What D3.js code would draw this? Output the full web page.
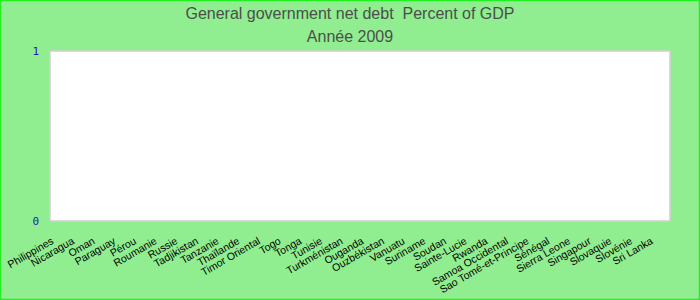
<!DOCTYPE html>
<html><head><meta charset="utf-8">
<script src="https://cdn.jsdelivr.net/npm/d3@7"></script>
<style>body{margin:0;padding:0;background:#fff}svg{display:block}</style>
</head><body>
<script>
const categories = ["Philippines","Nicaragua","Oman","Paraguay","Pérou","Roumanie","Russie","Tadjikistan","Tanzanie","Thaïlande","Timor Oriental","Togo","Tonga","Tunisie","Turkménistan","Ouganda","Ouzbékistan","Vanuatu","Suriname","Soudan","Sainte-Lucie","Rwanda","Samoa Occidental","Sao Tomé-et-Principe","Sénégal","Sierra Leone","Singapour","Slovaquie","Slovénie","Sri Lanka"];
const values = categories.map(() => null); // no data reported for 2009
const yTicks = [0, 1];
const title1 = "General government net debt  Percent of GDP";
const title2 = "Année 2009";

const W = 700, H = 300;
const m = {l:50, r:30, t:51, b:79};
const svg = d3.select("body").append("svg").attr("width", W).attr("height", H);
svg.append("rect").attr("x",0.5).attr("y",0.5).attr("width",W-1).attr("height",H-1)
  .attr("fill","#90ee90").attr("stroke","#22ee22").attr("stroke-width",1.5);

const x = d3.scaleBand().domain(categories).range([m.l, W-m.r]);
const y = d3.scaleLinear().domain([0,1]).range([H-m.b, m.t]);

svg.append("rect").attr("x",m.l).attr("y",m.t).attr("width",W-m.l-m.r).attr("height",H-m.t-m.b)
  .attr("fill","#fff").attr("stroke","#d0d0d0").attr("stroke-width",1.5);

svg.append("g").selectAll("rect").data(categories.map((c,i)=>({c,v:values[i]})).filter(d=>d.v!=null))
  .join("rect").attr("x",d=>x(d.c)+x.bandwidth()*0.1).attr("width",x.bandwidth()*0.8)
  .attr("y",d=>y(d.v)).attr("height",d=>y(0)-y(d.v)).attr("fill","#4472c4");

const ya = svg.append("g").attr("transform",`translate(${m.l},0)`)
  .call(d3.axisLeft(y).tickValues(yTicks).tickFormat(d3.format("d")).tickSize(0).tickPadding(11));
ya.select(".domain").remove();
ya.selectAll("text").attr("fill","#1a1ab0").style("font-family","'DejaVu Sans Mono', monospace").style("font-size","11px");

const xa = svg.append("g").attr("transform",`translate(0,${H-m.b})`)
  .call(d3.axisBottom(x).tickSize(0));
xa.select(".domain").remove();
xa.selectAll("text").attr("text-anchor","end").attr("dy",null).attr("y",null)
  .attr("transform","translate(-6,22) rotate(-30)")
  .attr("fill","#000").style("font-family","'Liberation Sans', Arial, sans-serif").style("font-size","10.5px");

svg.append("text").attr("x",W/2).attr("y",19).attr("text-anchor","middle").style("white-space","pre")
  .attr("fill","#4d4d4d").style("font-family","'Liberation Sans', Arial, sans-serif").style("font-size","16px").text(title1);
svg.append("text").attr("x",W/2).attr("y",42).attr("text-anchor","middle")
  .attr("fill","#4d4d4d").style("font-family","'Liberation Sans', Arial, sans-serif").style("font-size","16px").text(title2);
</script>
</body></html>
